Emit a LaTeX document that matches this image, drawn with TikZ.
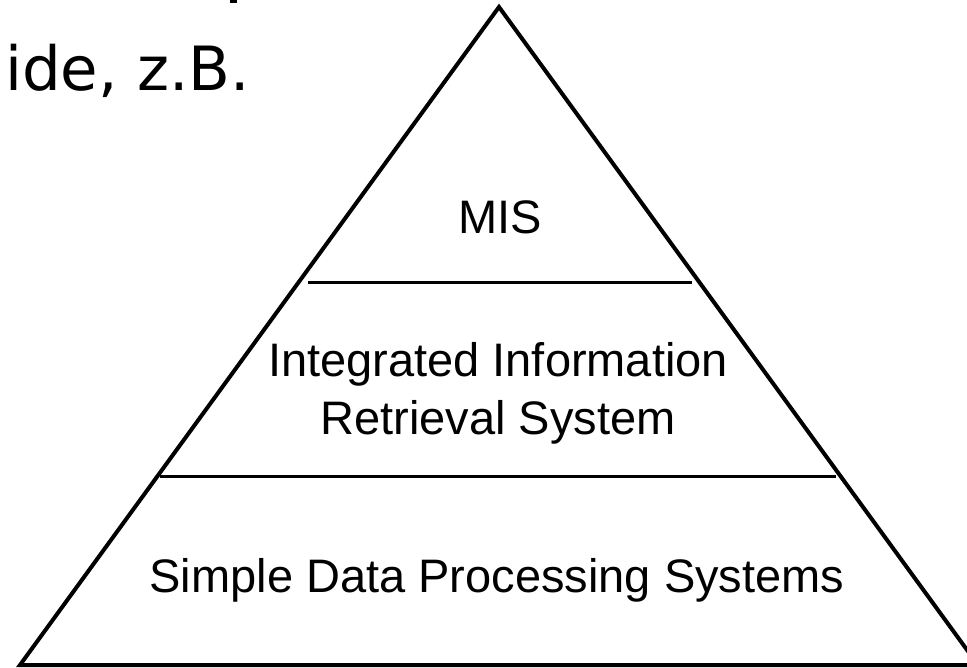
\documentclass[tikz,border=0pt]{standalone}
\usepackage{fontspec}
\setmainfont{Liberation Sans}
\newfontfamily\topfont{DejaVu Sans}
\begin{document}
\begin{tikzpicture}[x=1pt,y=-1pt,
  edge/.style={line width=4pt,line join=miter},
  tier/.style={line width=3pt},
  label/.style={font=\fontsize{47}{58}\selectfont,align=center,inner sep=0pt}]
\useasboundingbox (0,0) rectangle (967,668);
\clip (0,0) rectangle (967,668);
\coordinate (apex) at (499,7);
\coordinate (bl) at (20,665);
\coordinate (br) at (978,665);
\draw[edge] (apex) -- (bl) -- (br) -- cycle;
\coordinate (l1a) at (308,283);
\coordinate (l1b) at (692,283);
\coordinate (l2a) at (160,476);
\coordinate (l2b) at (836,476);
\draw[tier] (l1a) -- (l1b);
\draw[tier] (l2a) -- (l2b);
\node[label] (mis) at (500,217) {MIS};
\node[label] (iirs) at (498,393) {Integrated Information\\Retrieval System};
\node[label] (sdps) at (497,580) {Simple Data Processing Systems};
\node[font=\topfont\fontsize{61}{70}\selectfont,anchor=base west,inner sep=0pt] (txt) at (5,91) {ide, z.B.};
\fill (230,0) rectangle (237,3);
\end{tikzpicture}
\end{document}
